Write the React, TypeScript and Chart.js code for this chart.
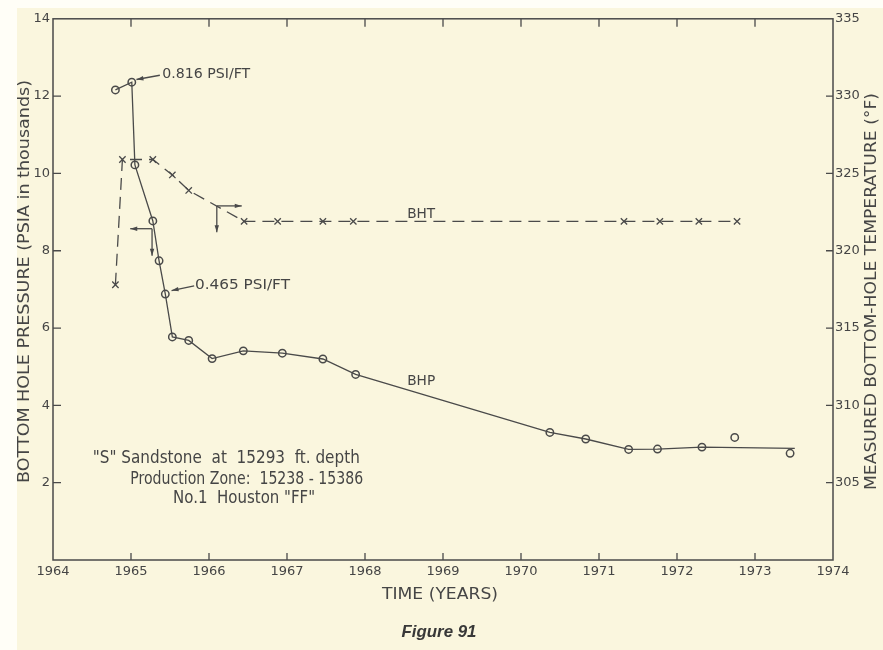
import React, { useEffect, useRef } from 'react';
import Chart from 'chart.js/auto';

// ---- data ----
const bhpTrendYears = [1964.80, 1965.01, 1965.05, 1965.28, 1965.36, 1965.44, 1965.53, 1965.74, 1966.04, 1966.44, 1966.94, 1967.46, 1967.88, 1970.37, 1970.83, 1971.38, 1971.75, 1972.32, 1973.51];
const bhpTrendPsi = [12.16, 12.36, 10.22, 8.77, 7.74, 6.88, 5.77, 5.68, 5.21, 5.41, 5.35, 5.20, 4.80, 3.30, 3.13, 2.86, 2.87, 2.92, 2.89];
const bhpMeasuredYears = [1964.80, 1965.01, 1965.05, 1965.28, 1965.36, 1965.44, 1965.53, 1965.74, 1966.04, 1966.44, 1966.94, 1967.46, 1967.88, 1970.37, 1970.83, 1971.38, 1971.75, 1972.32, 1972.74, 1973.45];
const bhpMeasuredPsi = [12.16, 12.36, 10.22, 8.77, 7.74, 6.88, 5.77, 5.68, 5.21, 5.41, 5.35, 5.20, 4.80, 3.30, 3.13, 2.86, 2.87, 2.92, 3.17, 2.76];
const bhtYears = [1964.80, 1964.89, 1965.28, 1965.53, 1965.74, 1966.45, 1966.88, 1967.46, 1967.85, 1971.32, 1971.78, 1972.28, 1972.77];
const bhtTemps = [317.8, 325.9, 325.9, 324.9, 323.9, 321.9, 321.9, 321.9, 321.9, 321.9, 321.9, 321.9, 321.9];

const yearTicks = [1964, 1965, 1966, 1967, 1968, 1969, 1970, 1971, 1972, 1973, 1974];
const pressureTicks = [2, 4, 6, 8, 10, 12, 14];
const tempTicks = [305, 310, 315, 320, 325, 330, 335];

const noteLines = ['"S" Sandstone  at  15293  ft. depth', 'Production Zone:  15238 - 15386', 'No.1  Houston "FF"'];

const INK = '#4a4a4a';
const TEXT = '#454545';
const PAPER = '#faf6de';
const FONT = '"DejaVu Sans", sans-serif';

function drawFit(ctx: CanvasRenderingContext2D, text: string, x: number, y: number, w: number, size: number, align: 'center' | 'left', rot = 0, font = FONT, weight = '', color = TEXT) {
  ctx.save();
  ctx.font = `${weight} ${size}px ${font}`;
  ctx.fillStyle = color;
  ctx.textAlign = align;
  ctx.textBaseline = 'middle';
  const m = ctx.measureText(text).width;
  ctx.translate(x, y);
  if (rot) ctx.rotate(rot);
  ctx.scale(w / m, 1);
  ctx.fillText(text, 0, 0);
  ctx.restore();
}

function arrow(ctx: CanvasRenderingContext2D, x1: number, y1: number, x2: number, y2: number) {
  ctx.save();
  ctx.strokeStyle = INK;
  ctx.fillStyle = INK;
  ctx.lineWidth = 1.3;
  ctx.beginPath();
  ctx.moveTo(x1, y1);
  ctx.lineTo(x2, y2);
  ctx.stroke();
  const a = Math.atan2(y2 - y1, x2 - x1);
  const L = 7, W = 2.2;
  ctx.beginPath();
  ctx.moveTo(x2, y2);
  ctx.lineTo(x2 - L * Math.cos(a) + W * Math.sin(a), y2 - L * Math.sin(a) - W * Math.cos(a));
  ctx.lineTo(x2 - L * Math.cos(a) - W * Math.sin(a), y2 - L * Math.sin(a) + W * Math.cos(a));
  ctx.closePath();
  ctx.fill();
  ctx.restore();
}

const framePlugin = {
  id: 'frame',
  beforeDatasetsDraw(chart: any) {
    const { ctx, chartArea: a, scales } = chart;
    ctx.save();
    ctx.strokeStyle = INK;
    ctx.lineWidth = 1.5;
    ctx.strokeRect(a.left, a.top, a.right - a.left, a.bottom - a.top);
    ctx.lineWidth = 1.3;
    ctx.beginPath();
    yearTicks.slice(1, -1).forEach((yv) => {
      const px = scales.x.getPixelForValue(yv);
      ctx.moveTo(px, a.bottom); ctx.lineTo(px, a.bottom - 7);
      ctx.moveTo(px, a.top); ctx.lineTo(px, a.top + 8);
    });
    pressureTicks.slice(0, -1).forEach((v) => {
      const py = scales.y.getPixelForValue(v);
      ctx.moveTo(a.left, py); ctx.lineTo(a.left + 8, py);
    });
    tempTicks.slice(0, -1).forEach((v) => {
      const py = scales.y2.getPixelForValue(v);
      ctx.moveTo(a.right, py); ctx.lineTo(a.right - 7, py);
    });
    ctx.stroke();
    ctx.restore();
  },
  afterDraw(chart: any) {
    const { ctx, scales } = chart;
    const X = (v: number) => scales.x.getPixelForValue(v);
    const Y = (v: number) => scales.y.getPixelForValue(v);
    // axis titles
    drawFit(ctx, 'BOTTOM HOLE PRESSURE (PSIA in thousands)', 8, 273.5, 403, 15, 'center', -Math.PI / 2);
    drawFit(ctx, 'MEASURED BOTTOM-HOLE TEMPERATURE (°F)', 855, 283.5, 397, 15, 'center', -Math.PI / 2);
    drawFit(ctx, 'TIME (YEARS)', 423, 587, 116, 15, 'center');
    drawFit(ctx, 'Figure 91', 422, 624, 75, 17, 'center', 0, '"Liberation Sans", Arial, sans-serif', 'italic bold', '#383838');
    // slope notes
    drawFit(ctx, '0.816 PSI/FT', X(1965.40), Y(12.56), 88, 14, 'left');
    arrow(ctx, X(1965.37), Y(12.54), X(1965.07), Y(12.43));
    drawFit(ctx, '0.465 PSI/FT', X(1965.82), Y(7.10), 95, 14, 'left');
    arrow(ctx, X(1965.81), Y(7.09), X(1965.52), Y(6.97));
    // axis indicators
    arrow(ctx, X(1965.27), Y(8.57), X(1964.99), Y(8.57));
    arrow(ctx, X(1965.27), Y(8.57), X(1965.27), Y(7.87));
    const T = (v: number) => scales.y2.getPixelForValue(v);
    arrow(ctx, X(1966.10), T(322.9), X(1966.42), T(322.9));
    arrow(ctx, X(1966.10), T(322.9), X(1966.10), T(321.2));
    // curve labels
    drawFit(ctx, 'BHT', X(1968.72), Y(8.93), 28, 14, 'center');
    drawFit(ctx, 'BHP', X(1968.72), Y(4.62), 28, 14, 'center');
    // note block
    drawFit(ctx, noteLines[0], X(1964.51), Y(2.62), 267, 17, 'left');
    drawFit(ctx, noteLines[1], X(1964.99), Y(2.09), 233, 17, 'left');
    drawFit(ctx, noteLines[2], X(1965.54), Y(1.58), 142, 17, 'left');
  },
};

export default function App() {
  const ref = useRef<HTMLCanvasElement>(null);
  useEffect(() => {
    document.body.style.margin = '0';
    document.body.style.background = '#fffef7';
    const chart = new Chart(ref.current!, {
      type: 'scatter',
      data: {
        datasets: [
          {
            label: 'BHP trend',
            data: bhpTrendYears.map((x, i) => ({ x, y: bhpTrendPsi[i] })),
            showLine: true,
            borderColor: INK,
            borderWidth: 1.3,
            pointRadius: 0,
            yAxisID: 'y',
          },
          {
            label: 'BHP',
            data: bhpMeasuredYears.map((x, i) => ({ x, y: bhpMeasuredPsi[i] })),
            showLine: false,
            pointStyle: 'circle',
            pointRadius: 3.7,
            pointBorderWidth: 1.5,
            pointBorderColor: INK,
            pointBackgroundColor: PAPER,
            yAxisID: 'y',
          },
          {
            label: 'BHT',
            data: bhtYears.map((x, i) => ({ x, y: bhtTemps[i] })),
            showLine: true,
            borderColor: INK,
            borderWidth: 1.3,
            borderDash: [12, 7],
            pointStyle: 'crossRot',
            pointRadius: 4.5,
            pointBorderWidth: 1.3,
            pointBorderColor: INK,
            yAxisID: 'y2',
          },
        ],
      },
      options: {
        animation: false,
        responsive: false,
        devicePixelRatio: 1,
        layout: { padding: { top: 7, left: 0, right: 0, bottom: 0 } },
        plugins: { legend: { display: false }, tooltip: { enabled: false } },
        scales: {
          x: {
            type: 'linear',
            min: 1964,
            max: 1974,
            afterFit: (s: any) => { s.height = 90; },
            afterBuildTicks: (s: any) => { s.ticks = yearTicks.map((v) => ({ value: v })); },
            grid: { display: false, drawTicks: false },
            border: { display: false },
            ticks: { padding: 4, color: TEXT, font: { family: FONT, size: 13 }, callback: (v: any) => String(v) },
          },
          y: {
            type: 'linear',
            position: 'left',
            min: 0,
            max: 14,
            afterFit: (s: any) => { s.width = 36; },
            afterBuildTicks: (s: any) => { s.ticks = pressureTicks.map((v) => ({ value: v })); },
            grid: { display: false, drawTicks: false },
            border: { display: false },
            ticks: { padding: 3, color: TEXT, font: { family: FONT, size: 13 }, callback: (v: any) => String(v) },
          },
          y2: {
            type: 'linear',
            position: 'right',
            min: 300,
            max: 335,
            afterFit: (s: any) => { s.width = 50; },
            afterBuildTicks: (s: any) => { s.ticks = tempTicks.map((v) => ({ value: v })); },
            grid: { display: false, drawTicks: false },
            border: { display: false },
            ticks: { padding: 2, color: TEXT, font: { family: FONT, size: 13 }, callback: (v: any) => String(v) },
          },
        },
      },
      plugins: [framePlugin],
    });
    return () => chart.destroy();
  }, []);
  return (
    <div style={{ position: 'absolute', left: 17, top: 8, width: 866, height: 642, background: PAPER }}>
      <canvas ref={ref} width={866} height={642} style={{ display: 'block' }} />
    </div>
  );
}
